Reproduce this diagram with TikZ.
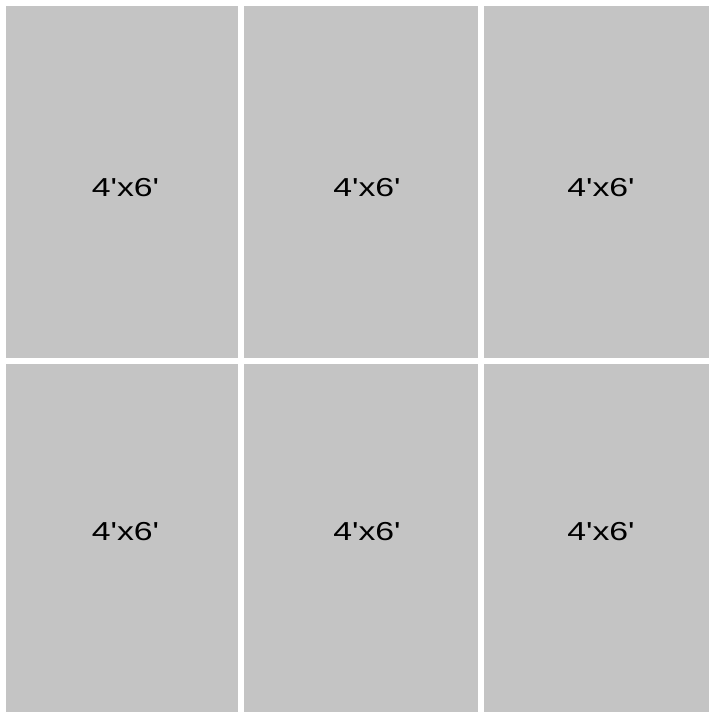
\documentclass[tikz,border=0pt]{standalone}
\usepackage{fontspec}
\setmainfont{Liberation Sans}[Ligatures=TeXOff]
\definecolor{cellgray}{RGB}{196,196,196}
\newcommand{\sizelabel}{4'x6'}
\tikzset{
  cell/.style={fill=cellgray, draw=none},
  lab/.style={inner sep=0pt, font=\fontsize{26}{30}\selectfont, text=black, xscale=1.3}
}
\begin{document}
\begin{tikzpicture}[x=1pt,y=-1pt]
\useasboundingbox[fill=white] (0,0) rectangle (709,712);
% row 1
\fill[cell] (6,6) rectangle (238,358);
\fill[cell] (244,6) rectangle (478,358);
\fill[cell] (484,6) rectangle (709,358);
% row 2
\fill[cell] (6,364) rectangle (238,712);
\fill[cell] (244,364) rectangle (478,712);
\fill[cell] (484,364) rectangle (709,712);
\node[lab] (a) at (125.5,188) {\sizelabel};
\node[lab] (b) at (367,188) {\sizelabel};
\node[lab] (c) at (601,188) {\sizelabel};
\node[lab] (d) at (125.5,532) {\sizelabel};
\node[lab] (e) at (367,532) {\sizelabel};
\node[lab] (f) at (601,532) {\sizelabel};
\end{tikzpicture}
\end{document}
